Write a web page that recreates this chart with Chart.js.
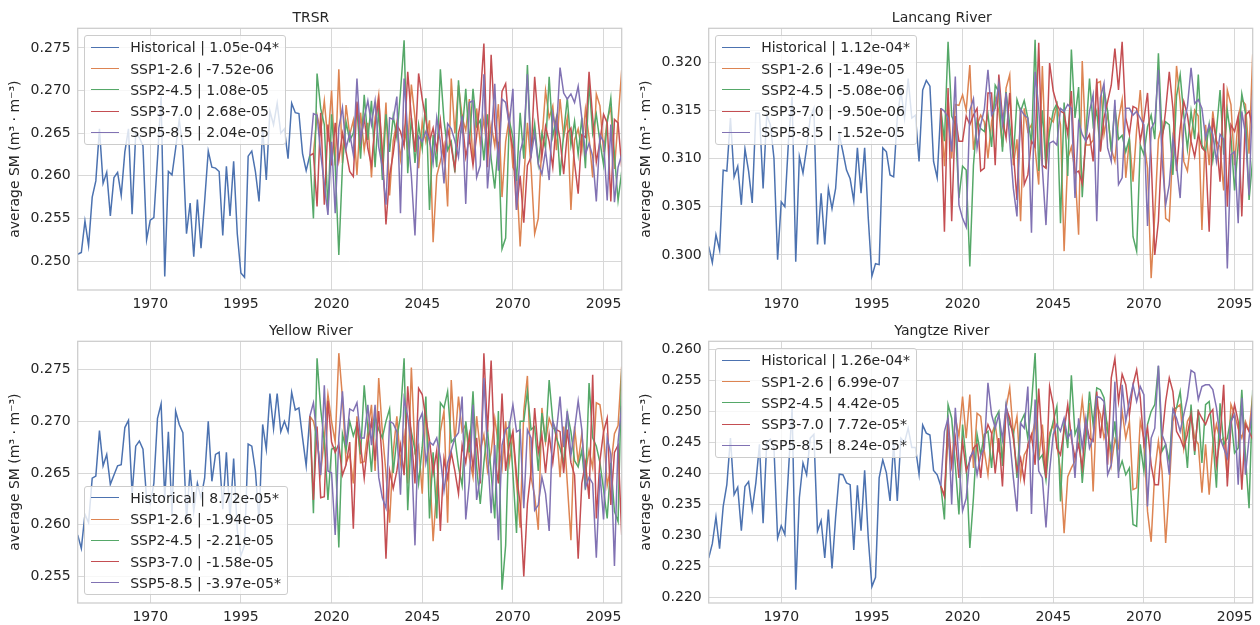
<!DOCTYPE html>
<html>
<head>
<meta charset="utf-8">
<title>Soil moisture trends</title>
<script src="https://cdn.jsdelivr.net/npm/chart.js@4.4.1/dist/chart.umd.min.js"></script>
<style>
  body { margin: 0; background: #fff; }
  #fig { position: relative; width: 1260px; height: 625px; overflow: hidden; font-family: 'DejaVu Sans', sans-serif; }
  .panel { position: absolute; width: 630px; height: 312px; }
  .legend {
    position: absolute; background: rgba(255, 255, 255, 0.8); border: 1px solid #cccccc;
    border-radius: 3px; padding: 0.75px 5.6px; font-size: 14px; color: #262626; pointer-events: none;
  }
  .legend .row { display: flex; align-items: center; height: 21.25px; white-space: nowrap; }
  .legend .swatch { display: inline-block; width: 28px; height: 0; border-top: 1.6px solid; margin-right: 11.2px; }
</style>
</head>
<body>
<div id="fig"></div>
<script>
// years: historical 1950-2014, scenarios 2015-2100
const histStart = 1950;
const sspStart = 2015;
const scenarios = ['Historical', 'SSP1-2.6', 'SSP2-4.5', 'SSP3-7.0', 'SSP5-8.5'];
const xTicks = [1970, 1995, 2020, 2045, 2070, 2095];

// ---- TRSR ----
const trsrTrend = ['1.05e-04*', '-7.52e-06', '1.08e-05', '2.68e-05', '2.04e-05'];
const trsrTicks = [0.250, 0.255, 0.260, 0.265, 0.270, 0.275];
const trsrHist = [
  0.2508, 0.2510, 0.2547, 0.2518, 0.2575, 0.2594, 0.2655, 0.2591, 0.2604, 0.2553,
  0.2598, 0.2604, 0.2577, 0.2628, 0.2655, 0.2555, 0.2650, 0.2645, 0.2635, 0.2525,
  0.2548, 0.2551, 0.2620, 0.2693, 0.2482, 0.2605, 0.2601, 0.2632, 0.2666, 0.2632,
  0.2532, 0.2568, 0.2505, 0.2572, 0.2515, 0.2570, 0.2629, 0.2610, 0.2609, 0.2605,
  0.2530, 0.2611, 0.2553, 0.2617, 0.2532, 0.2486, 0.2481, 0.2623, 0.2629, 0.2605,
  0.2570, 0.2655, 0.2595, 0.2676, 0.2660, 0.2685, 0.2650, 0.2655, 0.2620, 0.2685,
  0.2674, 0.2673, 0.2626, 0.2606, 0.2624
];
const trsrSsp126 = [
  0.2626, 0.2671, 0.2652, 0.2688, 0.2640, 0.2700, 0.2612, 0.2725, 0.2615, 0.2683,
  0.2648, 0.2665, 0.2601, 0.2674, 0.2630, 0.2662, 0.2598, 0.2668, 0.2695, 0.2612,
  0.2686, 0.2577, 0.2641, 0.2663, 0.2620, 0.2656, 0.2632, 0.2707, 0.2668, 0.2609,
  0.2663, 0.2640, 0.2665, 0.2522, 0.2600, 0.2617, 0.2636, 0.2564, 0.2714, 0.2650,
  0.2706, 0.2669, 0.2653, 0.2690, 0.2616, 0.2679, 0.2638, 0.2667, 0.2624, 0.2660,
  0.2635, 0.2684, 0.2575, 0.2640, 0.2668, 0.2610, 0.2602, 0.2517, 0.2596, 0.2662,
  0.2611, 0.2532, 0.2550, 0.2641, 0.2700, 0.2668, 0.2682, 0.2630, 0.2690, 0.2645,
  0.2668, 0.2560, 0.2642, 0.2655, 0.2629, 0.2678, 0.2645, 0.2598, 0.2696, 0.2682,
  0.2628, 0.2666, 0.2680, 0.2608, 0.2665, 0.2724
];
const trsrSsp245 = [
  0.2550, 0.2720, 0.2679, 0.2660, 0.2560, 0.2672, 0.2613, 0.2507, 0.2612, 0.2663,
  0.2641, 0.2650, 0.2678, 0.2620, 0.2695, 0.2642, 0.2688, 0.2610, 0.2680, 0.2595,
  0.2672, 0.2628, 0.2670, 0.2645, 0.2698, 0.2759, 0.2603, 0.2668, 0.2615, 0.2660,
  0.2632, 0.2691, 0.2560, 0.2648, 0.2610, 0.2725, 0.2665, 0.2630, 0.2640, 0.2604,
  0.2712, 0.2650, 0.2702, 0.2637, 0.2702, 0.2658, 0.2665, 0.2618, 0.2672, 0.2620,
  0.2585, 0.2640, 0.2514, 0.2527, 0.2665, 0.2645, 0.2594, 0.2674, 0.2620, 0.2730,
  0.2630, 0.2661, 0.2614, 0.2650, 0.2632, 0.2716, 0.2646, 0.2668, 0.2600, 0.2650,
  0.2691, 0.2636, 0.2664, 0.2625, 0.2668, 0.2609, 0.2710, 0.2650, 0.2672, 0.2640,
  0.2613, 0.2662, 0.2691, 0.2624, 0.2571, 0.2605
];
const trsrSsp370 = [
  0.2626, 0.2564, 0.2674, 0.2566, 0.2660, 0.2612, 0.2662, 0.2618, 0.2650, 0.2628,
  0.2605, 0.2599, 0.2687, 0.2640, 0.2668, 0.2632, 0.2612, 0.2660, 0.2689, 0.2630,
  0.2543, 0.2600, 0.2626, 0.2660, 0.2652, 0.2635, 0.2722, 0.2668, 0.2628, 0.2720,
  0.2690, 0.2666, 0.2640, 0.2656, 0.2630, 0.2665, 0.2620, 0.2656, 0.2634, 0.2608,
  0.2650, 0.2668, 0.2622, 0.2645, 0.2612, 0.2647, 0.2690, 0.2755, 0.2610, 0.2742,
  0.2660, 0.2624, 0.2699, 0.2708, 0.2655, 0.2632, 0.2560, 0.2600, 0.2545, 0.2612,
  0.2622, 0.2716, 0.2664, 0.2622, 0.2658, 0.2640, 0.2610, 0.2666, 0.2643, 0.2602,
  0.2650, 0.2656, 0.2615, 0.2579, 0.2648, 0.2645, 0.2722, 0.2668, 0.2616, 0.2640,
  0.2672, 0.2662, 0.2570, 0.2666, 0.2662, 0.2610
];
const trsrSsp585 = [
  0.2673, 0.2671, 0.2626, 0.2590, 0.2554, 0.2640, 0.2556, 0.2656, 0.2680, 0.2632,
  0.2650, 0.2625, 0.2714, 0.2642, 0.2668, 0.2688, 0.2660, 0.2688, 0.2634, 0.2610,
  0.2566, 0.2668, 0.2666, 0.2693, 0.2556, 0.2714, 0.2650, 0.2600, 0.2530, 0.2646,
  0.2640, 0.2652, 0.2642, 0.2615, 0.2668, 0.2640, 0.2591, 0.2661, 0.2655, 0.2641,
  0.2622, 0.2670, 0.2567, 0.2686, 0.2688, 0.2598, 0.2612, 0.2719, 0.2585, 0.2640,
  0.2708, 0.2606, 0.2690, 0.2686, 0.2660, 0.2702, 0.2560, 0.2628, 0.2645, 0.2719,
  0.2623, 0.2650, 0.2614, 0.2602, 0.2630, 0.2595, 0.2673, 0.2652, 0.2727, 0.2697,
  0.2690, 0.2696, 0.2686, 0.2705, 0.2668, 0.2625, 0.2638, 0.2623, 0.2570, 0.2648,
  0.2640, 0.2571, 0.2660, 0.2569, 0.2610, 0.2625
];

// ---- Lancang River ----
const lancangTrend = ['1.12e-04*', '-1.49e-05', '-5.08e-06', '-9.50e-06', '-1.52e-05'];
const lancangTicks = [0.300, 0.305, 0.310, 0.315, 0.320];
const lancangHist = [
  0.3009, 0.2992, 0.3021, 0.3005, 0.3088, 0.3087, 0.3142, 0.3081, 0.3092, 0.3052,
  0.3110, 0.3087, 0.3054, 0.3147, 0.3147, 0.3069, 0.3145, 0.3135, 0.3100, 0.2995,
  0.3055, 0.3050, 0.3118, 0.3164, 0.2993, 0.3102, 0.3085, 0.3111, 0.3142, 0.3152,
  0.3011, 0.3064, 0.3011, 0.3069, 0.3048, 0.3069, 0.3125, 0.3107, 0.3088, 0.3079,
  0.3056, 0.3111, 0.3064, 0.3111, 0.3038, 0.2978, 0.2991, 0.2990, 0.3111, 0.3107,
  0.3083, 0.3081, 0.3142, 0.3170, 0.3142, 0.3183, 0.3142, 0.3145, 0.3097, 0.3171,
  0.3181, 0.3175, 0.3097, 0.3080, 0.3152
];
const lancangSsp126 = [
  0.3092, 0.3163, 0.3100, 0.3156, 0.3155, 0.3166, 0.3150, 0.3197, 0.3109, 0.3135,
  0.3145, 0.3138, 0.3100, 0.3138, 0.3163, 0.3149, 0.3112, 0.3173, 0.3187, 0.3093,
  0.3120, 0.3035, 0.3152, 0.3128, 0.3135, 0.3110, 0.3073, 0.3196, 0.3090, 0.3142,
  0.3138, 0.3156, 0.3135, 0.3004, 0.3100, 0.3112, 0.3087, 0.3021, 0.3201, 0.3114,
  0.3114, 0.3119, 0.3178, 0.3180, 0.3125, 0.3147, 0.3110, 0.3097, 0.3140, 0.3161,
  0.3080, 0.3120, 0.3076, 0.3130, 0.3171, 0.3118, 0.3090, 0.2976, 0.3042, 0.3120,
  0.3135, 0.3038, 0.3035, 0.3114, 0.3196, 0.3159, 0.3097, 0.3087, 0.3121, 0.3150,
  0.3144, 0.3026, 0.3135, 0.3093, 0.3149, 0.3118, 0.3112, 0.3067, 0.3171, 0.3156,
  0.3093, 0.3142, 0.3161, 0.3156, 0.3105, 0.3208
];
const lancangSsp245 = [
  0.3118, 0.3221, 0.3144, 0.3135, 0.3059, 0.3092, 0.3088, 0.2988, 0.3093, 0.3140,
  0.3131, 0.3128, 0.3146, 0.3112, 0.3176, 0.3169, 0.3107, 0.3169, 0.3135, 0.3100,
  0.3161, 0.3149, 0.3160, 0.3142, 0.3115, 0.3223, 0.3087, 0.3150, 0.3090, 0.3128,
  0.3149, 0.3157, 0.3033, 0.3158, 0.3082, 0.3213, 0.3142, 0.3174, 0.3060, 0.3125,
  0.3183, 0.3135, 0.3149, 0.3108, 0.3171, 0.3149, 0.3107, 0.3154, 0.3120, 0.3124,
  0.3107, 0.3121, 0.3019, 0.3004, 0.3114, 0.3104, 0.3133, 0.3145, 0.3120, 0.3209,
  0.3124, 0.3138, 0.3135, 0.3083, 0.3165, 0.3187, 0.3145, 0.3110, 0.3149, 0.3120,
  0.3187, 0.3114, 0.3107, 0.3135, 0.3098, 0.3128, 0.3171, 0.3104, 0.3150, 0.3122,
  0.3067, 0.3114, 0.3167, 0.3147, 0.3057, 0.3100
];
const lancangSsp370 = [
  0.3024, 0.3173, 0.3035, 0.3144, 0.3118, 0.3118, 0.3144, 0.3135, 0.3145, 0.3152,
  0.3087, 0.3090, 0.3168, 0.3168, 0.3093, 0.3187, 0.3142, 0.3121, 0.3168, 0.3107,
  0.3057, 0.3151, 0.3073, 0.3083, 0.3118, 0.3112, 0.3220, 0.3093, 0.3090, 0.3199,
  0.3170, 0.3156, 0.3149, 0.3147, 0.3125, 0.3170, 0.3085, 0.3087, 0.3074, 0.3118,
  0.3125, 0.3097, 0.3183, 0.3107, 0.3142, 0.3159, 0.3176, 0.3214, 0.3171, 0.3221,
  0.3142, 0.3125, 0.3154, 0.3152, 0.3118, 0.3140, 0.3168, 0.3100, 0.3000, 0.3035,
  0.3118, 0.3150, 0.3190, 0.3152, 0.3087, 0.3131, 0.3159, 0.3145, 0.3118, 0.3102,
  0.3125, 0.3111, 0.3107, 0.3024, 0.3142, 0.3118, 0.3076, 0.3178, 0.3050, 0.3135,
  0.3128, 0.3144, 0.3040, 0.3145, 0.3149, 0.3131
];
const lancangSsp585 = [
  0.3149, 0.3142, 0.3107, 0.3185, 0.3052, 0.3038, 0.3029, 0.3150, 0.3162, 0.3111,
  0.3135, 0.3151, 0.3192, 0.3145, 0.3152, 0.3178, 0.3135, 0.3168, 0.3118, 0.3069,
  0.3040, 0.3151, 0.3145, 0.3142, 0.3023, 0.3190, 0.3152, 0.3090, 0.3031, 0.3116,
  0.3118, 0.3114, 0.3152, 0.3149, 0.3156, 0.3152, 0.3059, 0.3138, 0.3125, 0.3118,
  0.3149, 0.3166, 0.3035, 0.3163, 0.3178, 0.3111, 0.3097, 0.3161, 0.3073, 0.3080,
  0.3152, 0.3152, 0.3145, 0.3149, 0.3142, 0.3135, 0.3030, 0.3131, 0.3138, 0.3192,
  0.3100, 0.3052, 0.3073, 0.3121, 0.3093, 0.3059, 0.3135, 0.3154, 0.3194, 0.3157,
  0.3161, 0.3152, 0.3121, 0.3135, 0.3125, 0.3097, 0.3125, 0.3120, 0.2986, 0.3104,
  0.3107, 0.3033, 0.3149, 0.3125, 0.3062, 0.3171
];

// ---- Yellow River ----
const yellowTrend = ['8.72e-05*', '-1.94e-05', '-2.21e-05', '-1.58e-05', '-3.97e-05*'];
const yellowTicks = [0.255, 0.260, 0.265, 0.270, 0.275];
const yellowHist = [
  0.2590, 0.2577, 0.2610, 0.2602, 0.2645, 0.2647, 0.2691, 0.2657, 0.2668, 0.2639,
  0.2648, 0.2657, 0.2658, 0.2694, 0.2701, 0.2630, 0.2676, 0.2681, 0.2673, 0.2625,
  0.2620, 0.2640, 0.2703, 0.2717, 0.2625, 0.2690, 0.2610, 0.2710, 0.2697, 0.2689,
  0.2605, 0.2653, 0.2613, 0.2640, 0.2626, 0.2645, 0.2700, 0.2642, 0.2668, 0.2670,
  0.2615, 0.2670, 0.2605, 0.2664, 0.2595, 0.2570, 0.2580, 0.2678, 0.2676, 0.2652,
  0.2603, 0.2697, 0.2673, 0.2727, 0.2693, 0.2727, 0.2690, 0.2700, 0.2690, 0.2728,
  0.2711, 0.2713, 0.2684, 0.2657, 0.2705
];
const yellowSsp126 = [
  0.2700, 0.2684, 0.2650, 0.2684, 0.2726, 0.2700, 0.2680, 0.2766, 0.2723, 0.2660,
  0.2668, 0.2640, 0.2705, 0.2660, 0.2661, 0.2690, 0.2716, 0.2652, 0.2742, 0.2690,
  0.2650, 0.2602, 0.2670, 0.2705, 0.2660, 0.2687, 0.2640, 0.2752, 0.2670, 0.2677,
  0.2630, 0.2713, 0.2660, 0.2584, 0.2636, 0.2690, 0.2710, 0.2602, 0.2740, 0.2680,
  0.2724, 0.2690, 0.2697, 0.2665, 0.2646, 0.2705, 0.2672, 0.2687, 0.2652, 0.2670,
  0.2703, 0.2677, 0.2655, 0.2700, 0.2660, 0.2687, 0.2640, 0.2597, 0.2710, 0.2744,
  0.2646, 0.2628, 0.2595, 0.2713, 0.2680, 0.2703, 0.2693, 0.2693, 0.2646, 0.2695,
  0.2640, 0.2585, 0.2695, 0.2660, 0.2688, 0.2650, 0.2672, 0.2655, 0.2718, 0.2716,
  0.2690, 0.2638, 0.2656, 0.2688, 0.2696, 0.2753
];
const yellowSsp245 = [
  0.2611, 0.2761, 0.2712, 0.2680, 0.2624, 0.2673, 0.2675, 0.2578, 0.2688, 0.2672,
  0.2700, 0.2686, 0.2697, 0.2668, 0.2735, 0.2692, 0.2651, 0.2705, 0.2692, 0.2684,
  0.2700, 0.2712, 0.2650, 0.2684, 0.2705, 0.2761, 0.2614, 0.2690, 0.2672, 0.2640,
  0.2675, 0.2724, 0.2606, 0.2670, 0.2606, 0.2718, 0.2713, 0.2729, 0.2680, 0.2684,
  0.2656, 0.2638, 0.2700, 0.2670, 0.2729, 0.2656, 0.2620, 0.2660, 0.2692, 0.2650,
  0.2606, 0.2710, 0.2537, 0.2580, 0.2700, 0.2650, 0.2592, 0.2700, 0.2700, 0.2729,
  0.2692, 0.2695, 0.2652, 0.2708, 0.2680, 0.2740, 0.2700, 0.2684, 0.2674, 0.2660,
  0.2708, 0.2690, 0.2662, 0.2656, 0.2672, 0.2634, 0.2737, 0.2684, 0.2676, 0.2660,
  0.2634, 0.2606, 0.2660, 0.2613, 0.2603, 0.2750
];
const yellowSsp370 = [
  0.2624, 0.2695, 0.2626, 0.2627, 0.2720, 0.2680, 0.2670, 0.2678, 0.2648, 0.2658,
  0.2680, 0.2596, 0.2700, 0.2677, 0.2645, 0.2680, 0.2700, 0.2662, 0.2710, 0.2660,
  0.2567, 0.2652, 0.2635, 0.2652, 0.2677, 0.2648, 0.2734, 0.2684, 0.2640, 0.2732,
  0.2726, 0.2703, 0.2682, 0.2650, 0.2672, 0.2594, 0.2664, 0.2645, 0.2670, 0.2652,
  0.2630, 0.2677, 0.2660, 0.2687, 0.2655, 0.2684, 0.2640, 0.2766, 0.2690, 0.2759,
  0.2664, 0.2640, 0.2727, 0.2652, 0.2677, 0.2690, 0.2648, 0.2620, 0.2550, 0.2620,
  0.2652, 0.2713, 0.2670, 0.2687, 0.2650, 0.2687, 0.2660, 0.2692, 0.2690, 0.2650,
  0.2692, 0.2660, 0.2648, 0.2567, 0.2640, 0.2660, 0.2625, 0.2745, 0.2606, 0.2662,
  0.2690, 0.2703, 0.2619, 0.2670, 0.2677, 0.2590
];
const yellowSsp585 = [
  0.2718, 0.2684, 0.2648, 0.2735, 0.2652, 0.2650, 0.2590, 0.2684, 0.2729, 0.2677,
  0.2712, 0.2710, 0.2718, 0.2684, 0.2684, 0.2716, 0.2677, 0.2716, 0.2646, 0.2626,
  0.2616, 0.2700, 0.2698, 0.2690, 0.2629, 0.2722, 0.2705, 0.2674, 0.2580, 0.2700,
  0.2708, 0.2660, 0.2680, 0.2677, 0.2684, 0.2665, 0.2633, 0.2660, 0.2672, 0.2684,
  0.2689, 0.2724, 0.2605, 0.2642, 0.2716, 0.2624, 0.2646, 0.2742, 0.2671, 0.2611,
  0.2677, 0.2585, 0.2677, 0.2692, 0.2695, 0.2716, 0.2690, 0.2692, 0.2616, 0.2692,
  0.2684, 0.2614, 0.2619, 0.2646, 0.2630, 0.2594, 0.2700, 0.2690, 0.2724, 0.2675,
  0.2710, 0.2667, 0.2692, 0.2720, 0.2692, 0.2636, 0.2646, 0.2640, 0.2568, 0.2650,
  0.2605, 0.2684, 0.2668, 0.2560, 0.2680, 0.2715
];

// ---- Yangtze River ----
const yangtzeTrend = ['1.26e-04*', '6.99e-07', '4.42e-05', '7.72e-05*', '8.24e-05*'];
const yangtzeTicks = [0.220, 0.225, 0.230, 0.235, 0.240, 0.245, 0.250, 0.255, 0.260];
const yangtzeHist = [
  0.2264, 0.2287, 0.2330, 0.2279, 0.2347, 0.2382, 0.2457, 0.2366, 0.2378, 0.2308,
  0.2379, 0.2387, 0.2342, 0.2385, 0.2447, 0.2320, 0.2450, 0.2455, 0.2441, 0.2296,
  0.2316, 0.2302, 0.2404, 0.2506, 0.2213, 0.2361, 0.2417, 0.2398, 0.2457, 0.2463,
  0.2307, 0.2324, 0.2264, 0.2342, 0.2247, 0.2330, 0.2399, 0.2398, 0.2385, 0.2382,
  0.2277, 0.2381, 0.2308, 0.2405, 0.2296, 0.2218, 0.2233, 0.2393, 0.2422, 0.2401,
  0.2356, 0.2449, 0.2356, 0.2457, 0.2450, 0.2473, 0.2442, 0.2442, 0.2399, 0.2478,
  0.2465, 0.2462, 0.2405, 0.2398, 0.2380
];
const yangtzeSsp126 = [
  0.2365, 0.2457, 0.2414, 0.2491, 0.2460, 0.2524, 0.2457, 0.2527, 0.2409, 0.2497,
  0.2492, 0.2436, 0.2398, 0.2463, 0.2479, 0.2436, 0.2425, 0.2506, 0.2538, 0.2463,
  0.2492, 0.2393, 0.2430, 0.2441, 0.2457, 0.2484, 0.2422, 0.2479, 0.2409, 0.2465,
  0.2479, 0.2447, 0.2404, 0.2304, 0.2395, 0.2409, 0.2420, 0.2463, 0.2519, 0.2463,
  0.2514, 0.2371, 0.2511, 0.2495, 0.2457, 0.2479, 0.2414, 0.2455, 0.2441, 0.2500,
  0.2457, 0.2484, 0.2374, 0.2377, 0.2484, 0.2457, 0.2339, 0.2290, 0.2404, 0.2452,
  0.2404, 0.2288, 0.2377, 0.2484, 0.2506, 0.2511, 0.2441, 0.2484, 0.2495, 0.2457,
  0.2447, 0.2369, 0.2447, 0.2366, 0.2447, 0.2479, 0.2452, 0.2457, 0.2393, 0.2511,
  0.2495, 0.2473, 0.2457, 0.2484, 0.2468, 0.2527
];
const yangtzeSsp245 = [
  0.2326, 0.2511, 0.2489, 0.2414, 0.2334, 0.2479, 0.2420, 0.2280, 0.2361, 0.2463,
  0.2430, 0.2463, 0.2468, 0.2409, 0.2489, 0.2500, 0.2412, 0.2508, 0.2479, 0.2468,
  0.2393, 0.2482, 0.2495, 0.2457, 0.2511, 0.2594, 0.2422, 0.2430, 0.2390, 0.2457,
  0.2484, 0.2508, 0.2355, 0.2484, 0.2441, 0.2558, 0.2463, 0.2479, 0.2385, 0.2452,
  0.2532, 0.2479, 0.2538, 0.2535, 0.2522, 0.2468, 0.2436, 0.2484, 0.2403, 0.2420,
  0.2398, 0.2409, 0.2318, 0.2315, 0.2447, 0.2404, 0.2479, 0.2500, 0.2511, 0.2573,
  0.2436, 0.2447, 0.2420, 0.2503, 0.2506, 0.2532, 0.2474, 0.2409, 0.2511, 0.2430,
  0.2503, 0.2417, 0.2511, 0.2516, 0.2457, 0.2377, 0.2513, 0.2447, 0.2457, 0.2490,
  0.2433, 0.2441, 0.2535, 0.2428, 0.2344, 0.2535
];
const yangtzeSsp370 = [
  0.2363, 0.2489, 0.2414, 0.2457, 0.2393, 0.2452, 0.2404, 0.2420, 0.2441, 0.2447,
  0.2393, 0.2457, 0.2479, 0.2465, 0.2400, 0.2457, 0.2379, 0.2506, 0.2489, 0.2457,
  0.2404, 0.2425, 0.2388, 0.2447, 0.2463, 0.2414, 0.2537, 0.2447, 0.2393, 0.2540,
  0.2511, 0.2441, 0.2430, 0.2470, 0.2511, 0.2457, 0.2425, 0.2447, 0.2409, 0.2484,
  0.2457, 0.2452, 0.2532, 0.2457, 0.2511, 0.2414, 0.2554, 0.2585, 0.2516, 0.2560,
  0.2543, 0.2495, 0.2543, 0.2567, 0.2522, 0.2447, 0.2474, 0.2414, 0.2382, 0.2382,
  0.2457, 0.2516, 0.2554, 0.2532, 0.2468, 0.2457, 0.2441, 0.2463, 0.2495, 0.2436,
  0.2500, 0.2489, 0.2479, 0.2495, 0.2503, 0.2414, 0.2457, 0.2543, 0.2379, 0.2479,
  0.2511, 0.2484, 0.2374, 0.2479, 0.2468, 0.2455
];
const yangtzeSsp585 = [
  0.2468, 0.2489, 0.2350, 0.2506, 0.2420, 0.2340, 0.2360, 0.2426, 0.2436, 0.2398,
  0.2430, 0.2441, 0.2546, 0.2495, 0.2473, 0.2495, 0.2455, 0.2511, 0.2457, 0.2393,
  0.2339, 0.2481, 0.2473, 0.2540, 0.2335, 0.2519, 0.2404, 0.2393, 0.2313, 0.2404,
  0.2463, 0.2479, 0.2468, 0.2489, 0.2457, 0.2468, 0.2393, 0.2489, 0.2441, 0.2489,
  0.2441, 0.2457, 0.2524, 0.2522, 0.2516, 0.2398, 0.2414, 0.2548, 0.2393, 0.2543,
  0.2484, 0.2516, 0.2543, 0.2516, 0.2540, 0.2527, 0.2347, 0.2457, 0.2473, 0.2574,
  0.2463, 0.2447, 0.2398, 0.2503, 0.2489, 0.2468, 0.2495, 0.2522, 0.2566, 0.2562,
  0.2519, 0.2540, 0.2543, 0.2543, 0.2535, 0.2506, 0.2457, 0.2441, 0.2425, 0.2484,
  0.2495, 0.2382, 0.2522, 0.2398, 0.2457, 0.2511
];

// seaborn "deep" palette
const colors = ['#4C72B0', '#DD8452', '#55A868', '#C44E52', '#8172B3'];
const gridColor = '#d8d8d8';
const spineColor = '#cccccc';
const textColor = '#262626';

const panels = [
  { title: 'TRSR', hist: trsrHist, ssp: [trsrSsp126, trsrSsp245, trsrSsp370, trsrSsp585],
    trend: trsrTrend, yTicks: trsrTicks, yMin: 0.2466, yMax: 0.2773, legendLoc: 'upper left', left: 0, top: 0 },
  { title: 'Lancang River', hist: lancangHist, ssp: [lancangSsp126, lancangSsp245, lancangSsp370, lancangSsp585],
    trend: lancangTrend, yTicks: lancangTicks, yMin: 0.29637, yMax: 0.3235, legendLoc: 'upper left', left: 631, top: 0 },
  { title: 'Yellow River', hist: yellowHist, ssp: [yellowSsp126, yellowSsp245, yellowSsp370, yellowSsp585],
    trend: yellowTrend, yTicks: yellowTicks, yMin: 0.25242, yMax: 0.27775, legendLoc: 'lower left', left: 0, top: 313 },
  { title: 'Yangtze River', hist: yangtzeHist, ssp: [yangtzeSsp126, yangtzeSsp245, yangtzeSsp370, yangtzeSsp585],
    trend: yangtzeTrend, yTicks: yangtzeTicks, yMin: 0.21915, yMax: 0.26129, legendLoc: 'upper left', left: 631, top: 313 }
];

Chart.defaults.font.family = "'DejaVu Sans', sans-serif";
Chart.defaults.font.size = 14;
Chart.defaults.color = textColor;

// box around the plotting area, like matplotlib spines
const framePlugin = {
  id: 'frame',
  afterDatasetsDraw(chart) {
    const { ctx, chartArea: a } = chart;
    ctx.save();
    ctx.strokeStyle = spineColor;
    ctx.lineWidth = 1.25;
    ctx.strokeRect(a.left, a.top, a.right - a.left, a.bottom - a.top);
    ctx.restore();
  }
};

function buildDatasets(p) {
  const hist = p.hist.map((v, i) => ({ x: histStart + i, y: v }));
  const last = hist[hist.length - 1];
  const sets = [{ label: scenarios[0] + ' | ' + p.trend[0], data: hist }];
  p.ssp.forEach((series, k) => {
    // scenario lines continue from the last historical year
    const pts = [{ x: last.x, y: last.y }].concat(series.map((v, i) => ({ x: sspStart + i, y: v })));
    sets.push({ label: scenarios[k + 1] + ' | ' + p.trend[k + 1], data: pts });
  });
  return sets.map((ds, i) => Object.assign(ds, {
    borderColor: colors[i],
    backgroundColor: colors[i],
    borderWidth: 1.5,
    pointRadius: 0,
    tension: 0,
    fill: false,
    order: sets.length - 1 - i
  }));
}

function buildLegend(holder, chart, loc) {
  const box = document.createElement('div');
  box.className = 'legend';
  chart.data.datasets.forEach(ds => {
    const row = document.createElement('div');
    row.className = 'row';
    const sw = document.createElement('span');
    sw.className = 'swatch';
    sw.style.borderTopColor = ds.borderColor;
    const tx = document.createElement('span');
    tx.textContent = ds.label;
    row.append(sw, tx);
    box.append(row);
  });
  holder.append(box);
  const a = chart.chartArea;
  box.style.left = (a.left + 6.7) + 'px';
  if (loc === 'lower left') {
    box.style.bottom = (chart.height - a.bottom + 7.7) + 'px';
  } else {
    box.style.top = (a.top + 6.7) + 'px';
  }
}

const fig = document.getElementById('fig');

panels.forEach(p => {
  const holder = document.createElement('div');
  holder.className = 'panel';
  holder.style.left = p.left + 'px';
  holder.style.top = p.top + 'px';
  const canvas = document.createElement('canvas');
  canvas.width = 630;
  canvas.height = 312;
  holder.append(canvas);
  fig.append(holder);

  const chart = new Chart(canvas, {
    type: 'line',
    data: { datasets: buildDatasets(p) },
    options: {
      responsive: false,
      animation: false,
      devicePixelRatio: 1,
      layout: { padding: { left: 0, right: 8.3, top: 0, bottom: 0 } },
      plugins: {
        legend: { display: false },
        tooltip: { enabled: false },
        title: {
          display: true,
          text: p.title,
          color: textColor,
          font: { size: 14, weight: 'normal' },
          padding: { top: 9.9, bottom: 1.6 }
        }
      },
      scales: {
        x: {
          type: 'linear',
          min: histStart,
          max: 2100,
          border: { display: false },
          grid: { color: gridColor, lineWidth: 1, drawTicks: false },
          ticks: { padding: 6, color: textColor, maxRotation: 0, callback: v => String(v) },
          afterBuildTicks: axis => { axis.ticks = xTicks.map(v => ({ value: v })); },
          afterFit: axis => { axis.height = 22; }
        },
        y: {
          type: 'linear',
          min: p.yMin,
          max: p.yMax,
          border: { display: false },
          grid: { color: gridColor, lineWidth: 1, drawTicks: false },
          ticks: { padding: 7, color: textColor, callback: v => v.toFixed(3) },
          title: {
            display: true,
            text: 'average SM (m³ · m⁻³)',
            color: textColor,
            font: { size: 14 },
            padding: { top: 7.4, bottom: 0 }
          },
          afterBuildTicks: axis => { axis.ticks = p.yTicks.map(v => ({ value: v })); },
          afterFit: axis => { axis.width = 77.7; }
        }
      }
    },
    plugins: [framePlugin]
  });

  buildLegend(holder, chart, p.legendLoc);
});
</script>
</body>
</html>
